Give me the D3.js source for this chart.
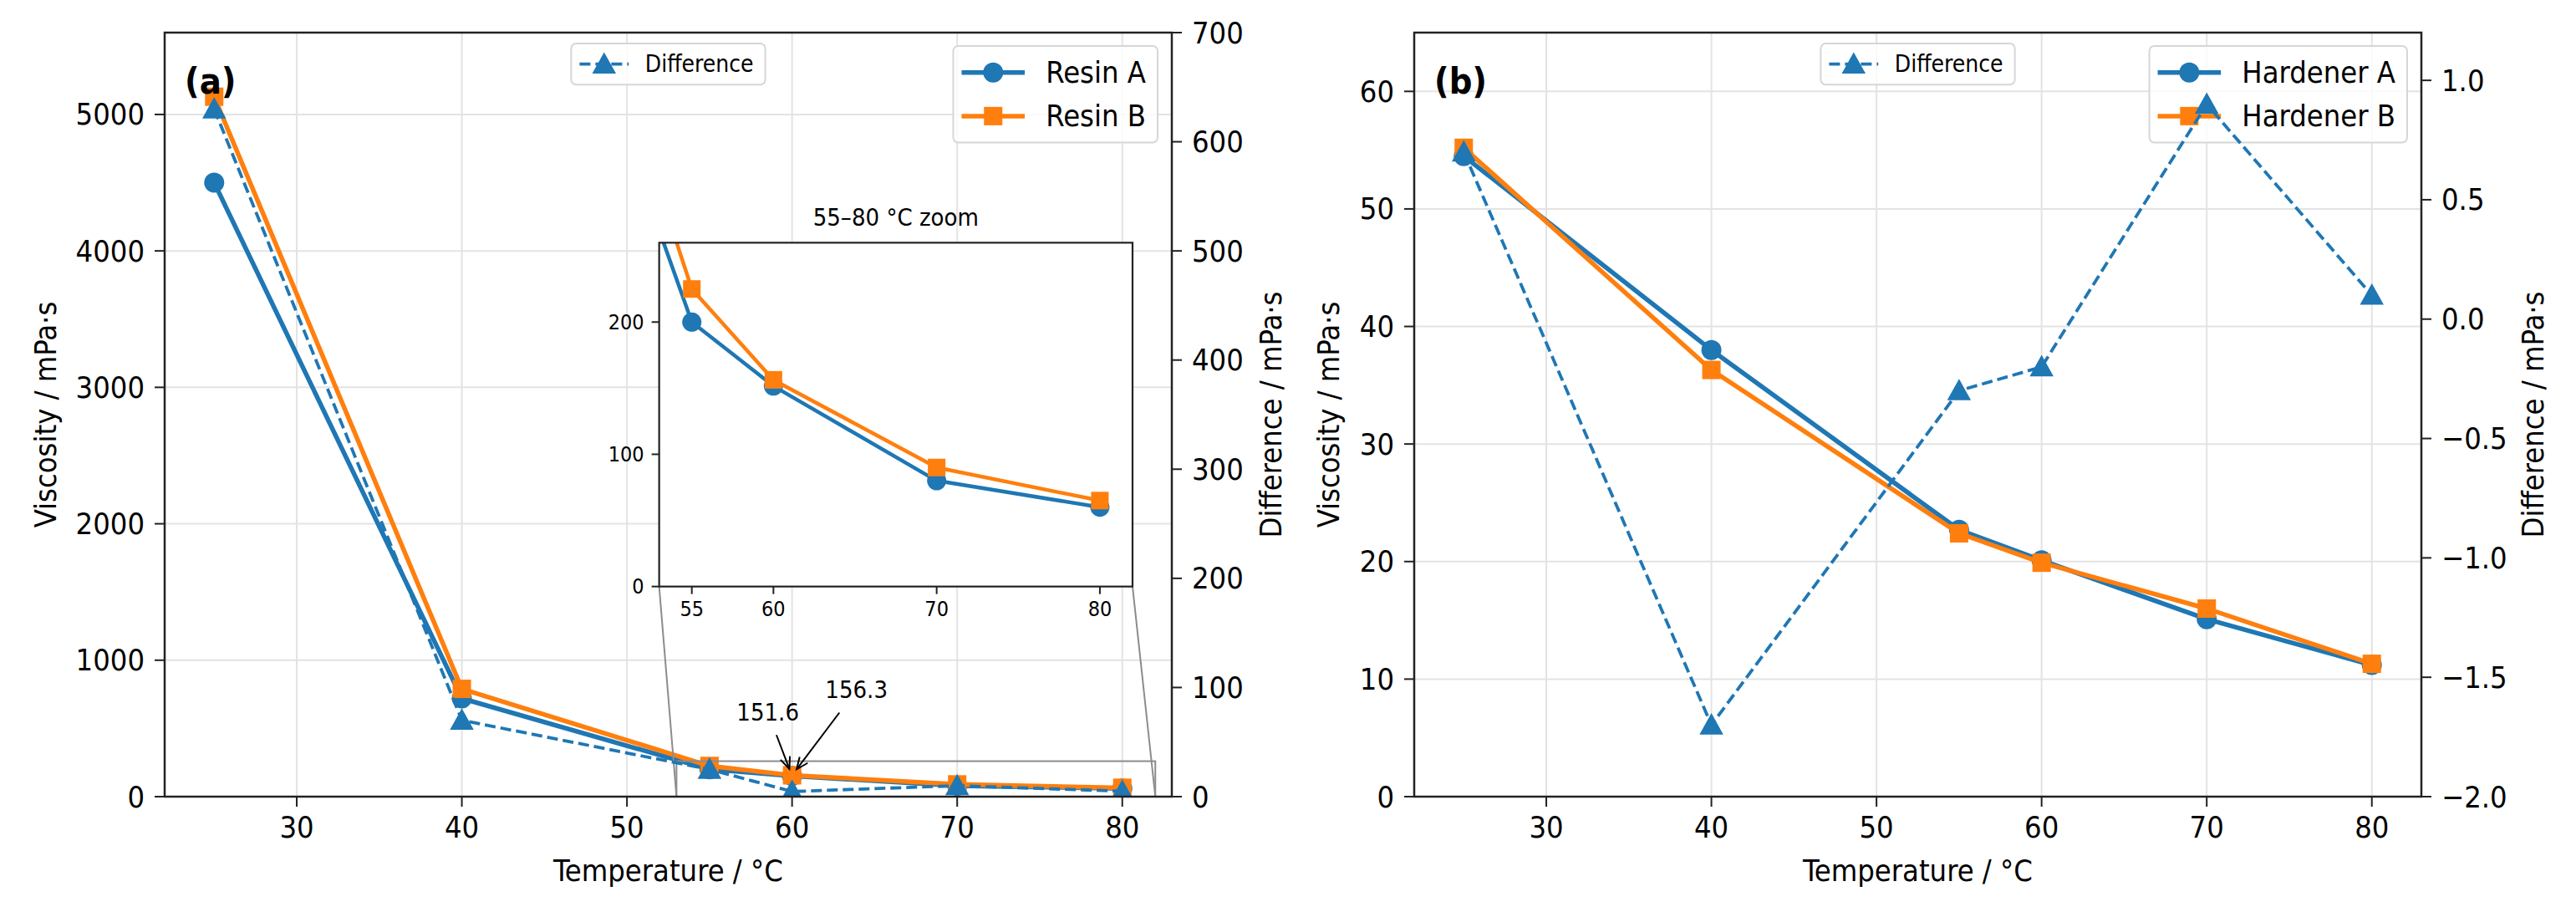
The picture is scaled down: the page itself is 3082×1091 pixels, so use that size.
<!DOCTYPE html>
<html>
<head>
<meta charset="utf-8">
<script src="https://cdn.jsdelivr.net/npm/d3@7"></script>
<style>
  body { margin: 0; background: #fff; }
  text { font-family: 'DejaVu Sans Condensed', 'DejaVu Sans', sans-serif; font-stretch: condensed; fill: #000; }
</style>
</head>
<body>
<script>
// data
const temps = [25, 40, 55, 60, 70, 80];
const resinA = [4500, 720, 200, 151.6, 80, 60];
const resinB = [5130, 790, 225, 156.3, 90, 65];
const resinDiff = [630, 70, 25, 4.7, 10, 5];
const hardA = [54.5, 38.0, 22.7, 20.1, 15.1, 11.2];
const hardB = [55.2, 36.3, 22.4, 19.9, 16.0, 11.3];
const hardDiff = [0.7, -1.7, -0.3, -0.2, 0.9, 0.1];

const xTicks = [30, 40, 50, 60, 70, 80];
const resinTicks = [0, 1000, 2000, 3000, 4000, 5000];
const resinDiffTicks = [0, 100, 200, 300, 400, 500, 600, 700];
const hardTicks = [0, 10, 20, 30, 40, 50, 60];
const hardDiffTicks = [-2.0, -1.5, -1.0, -0.5, 0.0, 0.5, 1.0];
const insetXTicks = [55, 60, 70, 80];
const insetYTicks = [0, 100, 200];

const BLUE = '#1f77b4', ORANGE = '#ff7f0e';
const W = 3082, H = 1091;

var svg = d3.select('body').append('svg')
  .attr('width', W).attr('height', H);

var defs = svg.append('defs');
defs.append('marker')
  .attr('id', 'arrow')
  .attr('markerUnits', 'userSpaceOnUse')
  .attr('markerWidth', 20).attr('markerHeight', 20)
  .attr('refX', 16).attr('refY', 8)
  .attr('orient', 'auto')
  .append('path')
  .attr('d', 'M2,2 L16,8 L2,14')
  .attr('fill', 'none').attr('stroke', '#000').attr('stroke-width', 2);

function marker(g, shape, x, y, color, size) {
  if (shape == 'circle') {
    g.append('circle').attr('cx', x).attr('cy', y).attr('r', size / 2).attr('fill', color);
  } else if (shape == 'square') {
    g.append('rect').attr('x', x - size / 2).attr('y', y - size / 2)
      .attr('width', size).attr('height', size).attr('fill', color);
  } else {
    var s = size * 0.62;
    g.append('path')
      .attr('d', 'M' + x + ',' + (y - s) + ' L' + (x + s) + ',' + (y + s * 0.8) + ' L' + (x - s) + ',' + (y + s * 0.8) + 'Z')
      .attr('fill', color);
  }
}

function series(g, xs, ys, sx, sy, opt) {
  var line = d3.line().x((d, i) => sx(xs[i])).y(d => sy(d));
  g.append('path').datum(ys)
    .attr('d', line)
    .attr('fill', 'none')
    .attr('stroke', opt.color)
    .attr('stroke-width', opt.width)
    .attr('stroke-dasharray', opt.dash || null)
    .attr('stroke-linejoin', 'round');
  ys.forEach((v, i) => marker(g, opt.shape, sx(xs[i]), sy(v), opt.color, opt.size));
}

function legend(g, items, fontSize, anchor, ax) {
  var lg = g.append('g');
  var box = lg.append('rect')
    .attr('fill', 'white').attr('fill-opacity', 0.8)
    .attr('stroke', '#d6d6d6').attr('stroke-width', 2).attr('rx', 6);
  var rowH = fontSize * 1.45;
  var handleW = fontSize * 2.1;
  var widths = [];
  items.forEach((it, i) => {
    var cy = fontSize * 0.88 + i * rowH;
    lg.append('line')
      .attr('x1', 10).attr('x2', 10 + handleW).attr('y1', cy).attr('y2', cy)
      .attr('stroke', it.color).attr('stroke-width', it.width)
      .attr('stroke-dasharray', it.dash || null);
    marker(lg, it.shape, 10 + handleW / 2, cy, it.color, it.size);
    var t = lg.append('text')
      .attr('x', 10 + handleW + fontSize * 0.7).attr('y', cy)
      .attr('dominant-baseline', 'central')
      .style('font-size', fontSize + 'px')
      .text(it.label);
    widths.push(t.node().getComputedTextLength());
  });
  var bw = 10 + handleW + fontSize * 0.7 + d3.max(widths) + 14;
  var bh = fontSize * 0.88 * 2 + (items.length - 1) * rowH;
  box.attr('width', bw).attr('height', bh);
  var tx = anchor == 'right' ? ax.x1 - 17 - bw : (ax.x0 + ax.x1) / 2 - bw / 2;
  var ty = anchor == 'right' ? ax.y0 + 16 : ax.y0 + 13;
  lg.attr('transform', 'translate(' + tx + ',' + ty + ')');
}

function yAxisTicks(g, ticks, sy, x, side, fmt, fs, len) {
  ticks.forEach(t => {
    var y = sy(t);
    g.append('line').attr('x1', x).attr('x2', x + side * len).attr('y1', y).attr('y2', y)
      .attr('stroke', '#222').attr('stroke-width', 2);
    g.append('text')
      .attr('x', x + side * (len + len)).attr('y', y)
      .attr('text-anchor', side < 0 ? 'end' : 'start')
      .attr('dominant-baseline', 'central')
      .style('font-size', fs + 'px')
      .text(fmt(t));
  });
}

function xAxisTicks(g, ticks, sx, y, fs, len) {
  ticks.forEach(t => {
    var x = sx(t);
    g.append('line').attr('x1', x).attr('x2', x).attr('y1', y).attr('y2', y + len)
      .attr('stroke', '#222').attr('stroke-width', 2);
    g.append('text')
      .attr('x', x).attr('y', y + len + len * 0.9)
      .attr('text-anchor', 'middle')
      .attr('dominant-baseline', 'hanging')
      .style('font-size', fs + 'px')
      .text(t);
  });
}

function panel(cfg) {
  var ax = cfg.ax;
  var g = svg.append('g');
  var sx = d3.scaleLinear().domain([22, 83]).range([ax.x0, ax.x1]);
  var sy = d3.scaleLinear().domain(cfg.yDomain).range([ax.y1, ax.y0]);
  var sy2 = d3.scaleLinear().domain(cfg.y2Domain).range([ax.y1, ax.y0]);

  g.append('clipPath').attr('id', 'clip' + cfg.id)
    .append('rect').attr('x', ax.x0).attr('y', ax.y0)
    .attr('width', ax.x1 - ax.x0).attr('height', ax.y1 - ax.y0);

  // grid
  xTicks.forEach(t => g.append('line')
    .attr('x1', sx(t)).attr('x2', sx(t)).attr('y1', ax.y0).attr('y2', ax.y1)
    .attr('stroke', '#e3e3e3').attr('stroke-width', 2));
  cfg.yTicks.forEach(t => g.append('line')
    .attr('x1', ax.x0).attr('x2', ax.x1).attr('y1', sy(t)).attr('y2', sy(t))
    .attr('stroke', '#e3e3e3').attr('stroke-width', 2));

  var main = g.append('g').attr('clip-path', 'url(#clip' + cfg.id + ')');
  series(main, temps, cfg.a, sx, sy, { color: BLUE, width: 5.5, shape: 'circle', size: 24 });
  series(main, temps, cfg.b, sx, sy, { color: ORANGE, width: 5.5, shape: 'square', size: 22 });

  if (cfg.inset) cfg.inset(g, sx, sy, ax);

  legend(g, [
    { label: cfg.names[0], color: BLUE, width: 5.5, shape: 'circle', size: 24 },
    { label: cfg.names[1], color: ORANGE, width: 5.5, shape: 'square', size: 22 }
  ], 36, 'right', ax);

  var twin = g.append('g').attr('clip-path', 'url(#clip' + cfg.id + ')');
  series(twin, temps, cfg.diff, sx, sy2, { color: BLUE, width: 3.8, dash: '13,6', shape: 'triangle', size: 23 });

  legend(g, [
    { label: 'Difference', color: BLUE, width: 3.8, dash: '13,6', shape: 'triangle', size: 23 }
  ], 28, 'center', ax);

  // spines
  g.append('rect').attr('x', ax.x0).attr('y', ax.y0)
    .attr('width', ax.x1 - ax.x0).attr('height', ax.y1 - ax.y0)
    .attr('fill', 'none').attr('stroke', '#222').attr('stroke-width', 2.5);

  xAxisTicks(g, xTicks, sx, ax.y1, 36, 12);
  yAxisTicks(g, cfg.yTicks, sy, ax.x0, -1, d3.format('d'), 36, 12);
  yAxisTicks(g, cfg.y2Ticks, sy2, ax.x1, 1, cfg.y2Fmt, 36, 12);

  g.append('text')
    .attr('x', (ax.x0 + ax.x1) / 2).attr('y', ax.y1 + 88)
    .attr('text-anchor', 'middle').attr('dominant-baseline', 'central')
    .style('font-size', '36px')
    .text('Temperature / °C');
  g.append('text')
    .attr('transform', 'translate(' + (ax.x0 + cfg.yLabelOff) + ',' + (ax.y0 + ax.y1) / 2 + ') rotate(-90)')
    .attr('text-anchor', 'middle').attr('dominant-baseline', 'central')
    .style('font-size', '36px')
    .text('Viscosity / mPa·s');
  g.append('text')
    .attr('transform', 'translate(' + (ax.x1 + cfg.y2LabelOff) + ',' + (ax.y0 + ax.y1) / 2 + ') rotate(-90)')
    .attr('text-anchor', 'middle').attr('dominant-baseline', 'central')
    .style('font-size', '36px')
    .text('Difference / mPa·s');

  g.append('text')
    .attr('x', ax.x0 + 24).attr('y', ax.y0 + 73)
    .style('font-size', '43px').style('font-weight', 'bold')
    .text(cfg.tag);
}

// inset for panel (a)
const insetX = [53, 82];
const insetY = [0, 260];
const notes = [
  { t: 60, v: 151.6, label: '151.6', dx: -29, dy: -76 },
  { t: 60, v: 156.3, label: '156.3', dx: 77, dy: -102 }
];

function insetA(g, sx, sy, ax) {
  var w = ax.x1 - ax.x0, h = ax.y1 - ax.y0;
  var ib = { x0: ax.x0 + 0.491 * w, x1: ax.x0 + 0.961 * w, y0: ax.y1 - 0.725 * h, y1: ax.y1 - 0.275 * h };

  // zoom box on main axes and connectors
  var rx0 = sx(insetX[0]), rx1 = sx(insetX[1]), ry0 = sy(insetY[1]), ry1 = sy(insetY[0]);
  g.append('rect').attr('x', rx0).attr('y', ry0).attr('width', rx1 - rx0).attr('height', ry1 - ry0)
    .attr('fill', 'none').attr('stroke', '#8c8c8c').attr('stroke-width', 2);
  g.append('line').attr('x1', ib.x0).attr('y1', ib.y1).attr('x2', rx0).attr('y2', ry1)
    .attr('stroke', '#8c8c8c').attr('stroke-width', 2);
  g.append('line').attr('x1', ib.x1).attr('y1', ib.y1).attr('x2', rx1).attr('y2', ry1)
    .attr('stroke', '#8c8c8c').attr('stroke-width', 2);

  // annotations
  notes.forEach(n => {
    var px = sx(n.t), py = sy(n.v);
    var cx = px + n.dx, cy = py + n.dy;
    var ddx = px - cx, ddy = py - cy, L = Math.hypot(ddx, ddy);
    var k0 = 27 / ddy;
    g.append('line')
      .attr('x1', cx + ddx * k0).attr('y1', cy + ddy * k0)
      .attr('x2', px - ddx / L * 9).attr('y2', py - ddy / L * 9)
      .attr('stroke', '#000').attr('stroke-width', 2)
      .attr('marker-end', 'url(#arrow)');
    g.append('text').attr('x', cx).attr('y', cy)
      .attr('text-anchor', 'middle').attr('dominant-baseline', 'central')
      .style('font-size', '29px').text(n.label);
  });

  var ix = d3.scaleLinear().domain(insetX).range([ib.x0, ib.x1]);
  var iy = d3.scaleLinear().domain(insetY).range([ib.y1, ib.y0]);
  var ig = g.append('g');
  ig.append('rect').attr('x', ib.x0).attr('y', ib.y0).attr('width', ib.x1 - ib.x0).attr('height', ib.y1 - ib.y0)
    .attr('fill', 'white');
  ig.append('clipPath').attr('id', 'clipInset')
    .append('rect').attr('x', ib.x0).attr('y', ib.y0).attr('width', ib.x1 - ib.x0).attr('height', ib.y1 - ib.y0);
  var il = ig.append('g').attr('clip-path', 'url(#clipInset)');
  series(il, temps, resinA, ix, iy, { color: BLUE, width: 4.5, shape: 'circle', size: 23 });
  series(il, temps, resinB, ix, iy, { color: ORANGE, width: 4.5, shape: 'square', size: 21 });
  ig.append('rect').attr('x', ib.x0).attr('y', ib.y0).attr('width', ib.x1 - ib.x0).attr('height', ib.y1 - ib.y0)
    .attr('fill', 'none').attr('stroke', '#222').attr('stroke-width', 2.2);
  xAxisTicks(ig, insetXTicks, ix, ib.y1, 25, 9);
  yAxisTicks(ig, insetYTicks, iy, ib.x0, -1, d3.format('d'), 25, 9);
  ig.append('text')
    .attr('x', (ib.x0 + ib.x1) / 2).attr('y', ib.y0 - 30)
    .attr('text-anchor', 'middle').attr('dominant-baseline', 'central')
    .style('font-size', '29px')
    .text('55–80 °C zoom');
}

panel({
  id: 'a', tag: '(a)',
  ax: { x0: 197, x1: 1402, y0: 39, y1: 953 },
  yDomain: [0, 5600], y2Domain: [0, 700],
  yTicks: resinTicks, y2Ticks: resinDiffTicks, y2Fmt: d3.format('d'),
  a: resinA, b: resinB, diff: resinDiff,
  names: ['Resin A', 'Resin B'],
  yLabelOff: -143, y2LabelOff: 118,
  inset: insetA
});

panel({
  id: 'b', tag: '(b)',
  ax: { x0: 1692, x1: 2897, y0: 39, y1: 953 },
  yDomain: [0, 65], y2Domain: [-2, 1.2],
  yTicks: hardTicks, y2Ticks: hardDiffTicks, y2Fmt: d3.format('.1f'),
  a: hardA, b: hardB, diff: hardDiff,
  names: ['Hardener A', 'Hardener B'],
  yLabelOff: -103, y2LabelOff: 133
});
</script>
</body>
</html>
